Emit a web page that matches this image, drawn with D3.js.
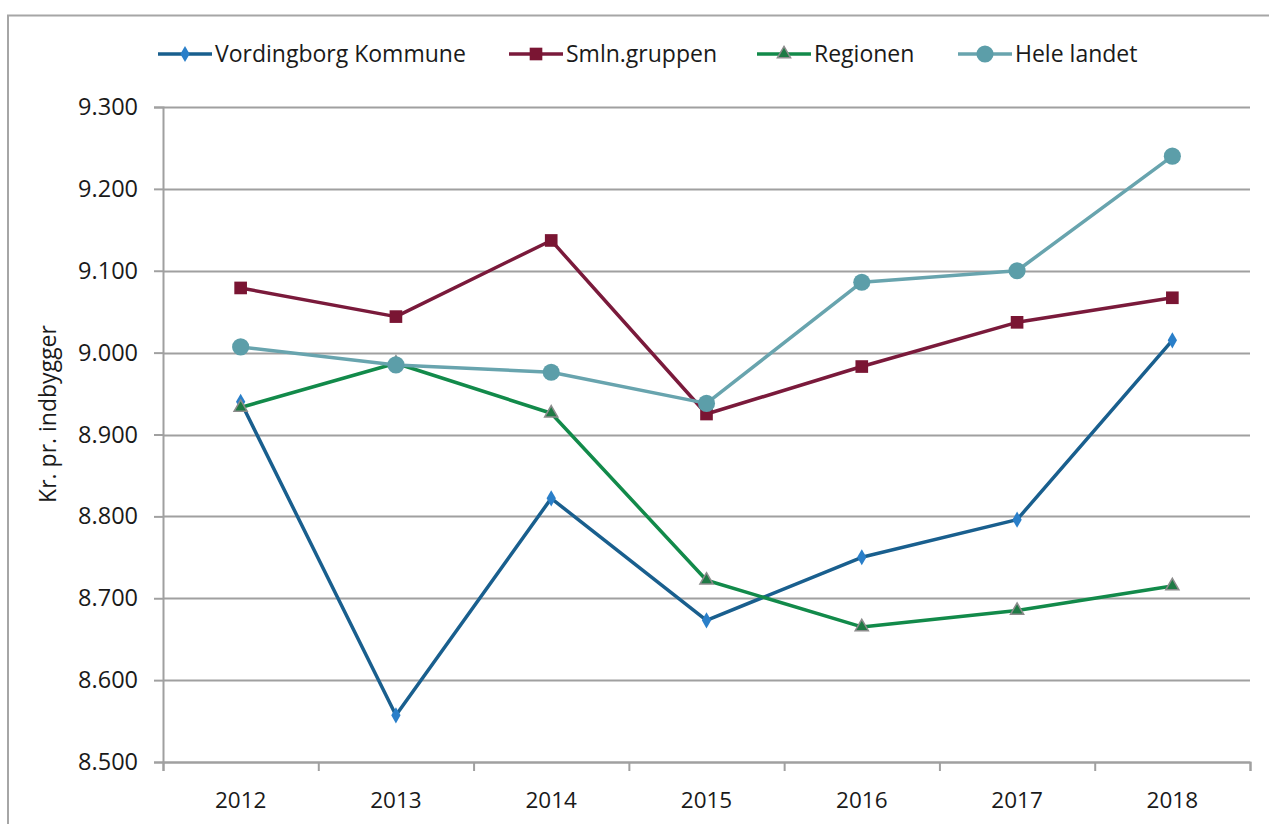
<!DOCTYPE html>
<html>
<head>
<meta charset="utf-8">
<script src="https://cdn.jsdelivr.net/npm/d3@7"></script>
<style>
  body { margin: 0; background: #fff; }
  text { font-family: "Open Sans", sans-serif; fill: #1a1a1a; }
</style>
</head>
<body>
<div id="chart"></div>
<script>
// chart data (kr. pr. indbygger)
var years = ["2012", "2013", "2014", "2015", "2016", "2017", "2018"];
var vordingborg = [8940, 8557, 8822, 8673, 8750, 8796, 9015];
var smlnGruppen = [9079, 9044, 9137, 8925, 8983, 9037, 9067];
var regionen = [8933, 8987, 8926, 8722, 8665, 8685, 8715];
var heleLandet = [9007, 8985, 8976, 8938, 9086, 9100, 9240];
var yTicks = [8500, 8600, 8700, 8800, 8900, 9000, 9100, 9200, 9300];
var seriesNames = ["Vordingborg Kommune", "Smln.gruppen", "Regionen", "Hele landet"];

var series = [
    { name: seriesNames[0], values: vordingborg, line: "#195f8e", fill: "#2a7fc9", stroke: "none", shape: d3.symbolDiamond, size: 75 },
    { name: seriesNames[1], values: smlnGruppen, line: "#7a1a3b", fill: "#7a1533", stroke: "none", shape: d3.symbolSquare, size: 160 },
    { name: seriesNames[2], values: regionen, line: "#128a4a", fill: "#1f7a45", stroke: "#8c8c8c", shape: d3.symbolTriangle, size: 75 },
    { name: seriesNames[3], values: heleLandet, line: "#68a4ae", fill: "#5c9ea9", stroke: "none", shape: d3.symbolCircle, size: 230 }
];

var svgWidth = 1269;
var svgHeight = 824;

var margin = { top: 107, left: 163, right: 19, bottom: 62 };
var width = svgWidth - margin.left - margin.right;
var height = svgHeight - margin.top - margin.bottom;

var svg = d3.select("#chart")
    .append("svg")
    .attr("width", svgWidth)
    .attr("height", svgHeight);

// outer chart frame
svg.append("rect")
    .attr("x", 8)
    .attr("y", 15.5)
    .attr("width", 1400)
    .attr("height", 1000)
    .attr("fill", "none")
    .attr("stroke", "#a6a6a6")
    .attr("stroke-width", 2);

var chartGroup = svg.append("g")
    .attr("transform", `translate(${margin.left}, ${margin.top})`);

// scales
var xBand = d3.scaleBand()
    .domain(years)
    .range([0, width])
    .padding(0);

var xTickScale = d3.scaleLinear()
    .domain([0, years.length])
    .range([0, width]);

var yLinearScale = d3.scaleLinear()
    .domain([8500, 9300])
    .range([height, 0]);

var dk = d3.formatLocale({ decimal: ",", thousands: ".", grouping: [3], currency: ["", " kr."] });
var fmt = dk.format(",.0f");

// gridlines
chartGroup.append("g")
    .selectAll("line")
    .data(yTicks)
    .enter()
    .append("line")
    .attr("x1", 0)
    .attr("x2", width)
    .attr("y1", d => Math.round(yLinearScale(d)) + 0.5)
    .attr("y2", d => Math.round(yLinearScale(d)) + 0.5)
    .attr("stroke", "#a0a0a0")
    .attr("stroke-width", 2);

// y axis
var leftAxis = d3.axisLeft(yLinearScale)
    .tickValues(yTicks)
    .tickFormat(fmt)
    .tickSize(9)
    .tickPadding(16);

var yAxisG = chartGroup.append("g").call(leftAxis);
yAxisG.select(".domain").attr("stroke", "#a0a0a0").attr("stroke-width", 2);
yAxisG.selectAll(".tick line").attr("stroke", "#a0a0a0").attr("stroke-width", 2);
yAxisG.selectAll(".tick text")
    .style("font-family", "'Open Sans', sans-serif")
    .style("font-size", "23.5px")
    .attr("fill", "#1a1a1a");

// x axis: tick marks between categories, labels centered
var bottomTicks = d3.axisBottom(xTickScale)
    .ticks(years.length)
    .tickFormat("")
    .tickSize(9)
    .tickSizeOuter(9);

var xAxisG = chartGroup.append("g")
    .attr("transform", `translate(0, ${height})`)
    .call(bottomTicks);
xAxisG.select(".domain").attr("stroke", "#a0a0a0").attr("stroke-width", 2);
xAxisG.selectAll(".tick line").attr("stroke", "#a0a0a0").attr("stroke-width", 2);

var bottomAxis = d3.axisBottom(xBand)
    .tickSize(0)
    .tickPadding(30);

var xLabelG = chartGroup.append("g")
    .attr("transform", `translate(0, ${height})`)
    .call(bottomAxis);
xLabelG.select(".domain").remove();
xLabelG.selectAll(".tick text")
    .style("font-family", "'Open Sans', sans-serif")
    .style("font-size", "22.5px")
    .attr("fill", "#1a1a1a");

// y axis title
svg.append("text")
    .attr("transform", "rotate(-90)")
    .attr("x", -414)
    .attr("y", 56)
    .attr("text-anchor", "middle")
    .style("font-size", "23px")
    .text("Kr. pr. indbygger");

var xPos = (d, i) => xBand(years[i]) + xBand.bandwidth() / 2;

var line = d3.line()
    .x(xPos)
    .y(d => yLinearScale(d));

// lines and markers, one series after the other
series.forEach(function(s) {
    var g = chartGroup.append("g");

    g.append("path")
        .datum(s.values)
        .attr("d", line)
        .attr("fill", "none")
        .attr("stroke", s.line)
        .attr("stroke-width", 3.5)
        .attr("stroke-linejoin", "round");

    g.selectAll("path.marker")
        .data(s.values)
        .enter()
        .append("path")
        .classed("marker", true)
        .attr("transform", (d, i) => `translate(${xPos(d, i)}, ${yLinearScale(d)})`)
        .attr("d", d3.symbol().type(s.shape).size(s.size))
        .attr("fill", s.fill)
        .attr("stroke", s.stroke)
        .attr("stroke-width", 1.5);
});

// legend
var legendX = [158, 509, 757, 958];
var legend = svg.append("g");

series.forEach(function(s, i) {
    var lg = legend.append("g")
        .attr("transform", `translate(${legendX[i]}, 54)`);

    lg.append("line")
        .attr("x1", 0)
        .attr("x2", 54)
        .attr("stroke", s.line)
        .attr("stroke-width", 3.5);

    lg.append("path")
        .attr("transform", "translate(27, 0)")
        .attr("d", d3.symbol().type(s.shape).size(s.size))
        .attr("fill", s.fill)
        .attr("stroke", s.stroke)
        .attr("stroke-width", 1.5);

    lg.append("text")
        .attr("x", 57)
        .attr("dy", "0.35em")
        .style("font-size", "23px")
        .text(s.name);
});
</script>
</body>
</html>
